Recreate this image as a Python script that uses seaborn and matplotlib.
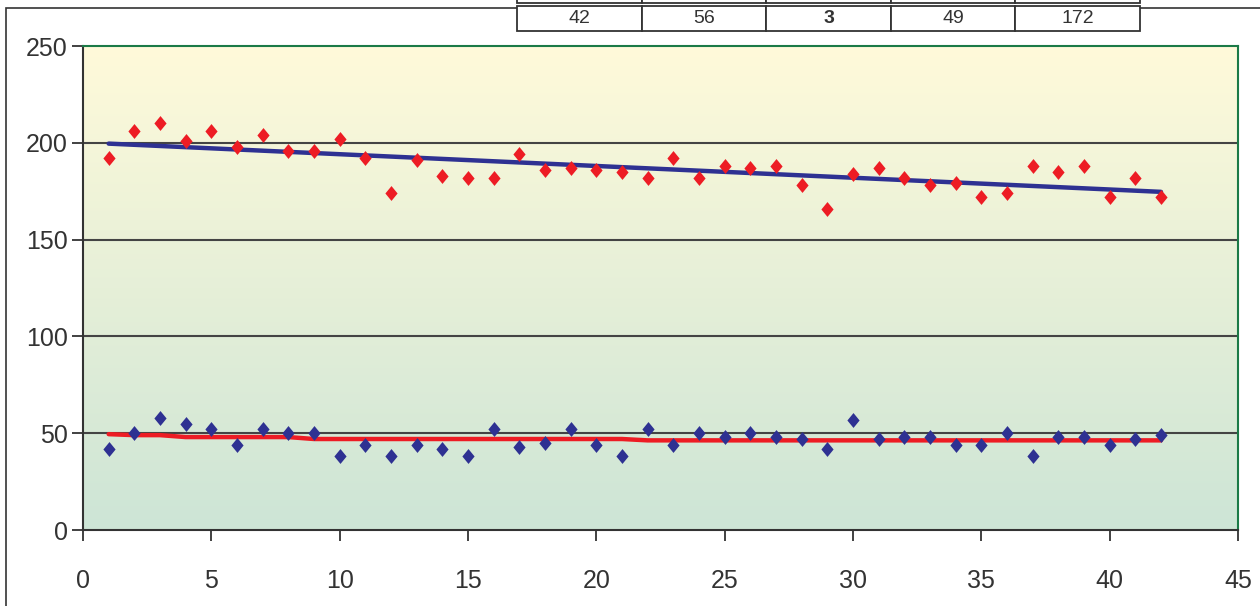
import numpy as np
import pandas as pd
import matplotlib
matplotlib.use('Agg')
import matplotlib.pyplot as plt
import seaborn as sns
from matplotlib.patches import Rectangle

# sample index
samples = list(range(1, 43))

# upper series (red diamonds)
high_vals = [192, 206, 210, 201, 206, 198, 204, 196, 196, 202,
             192, 174, 191, 183, 182, 182, 194, 186, 187, 186,
             185, 182, 192, 182, 188, 187, 188, 178, 166, 184,
             187, 182, 178, 179, 172, 174, 188, 185, 188, 172,
             182, 172]

# lower series (blue diamonds)
low_vals = [42, 50, 58, 55, 52, 44, 52, 50, 50, 38,
            44, 38, 44, 42, 38, 52, 43, 45, 52, 44,
            38, 52, 44, 50, 48, 50, 48, 47, 42, 57,
            47, 48, 48, 44, 44, 50, 38, 48, 48, 44,
            47, 49]

# rounded trend of the lower series, as plotted
low_trend = [49.5, 49, 49, 48, 48, 48, 48, 48, 47, 47,
             47, 47, 47, 47, 47, 47, 47, 47, 47, 47,
             47, 46.3, 46.3, 46.3, 46.3, 46.3, 46.3, 46.3, 46.3, 46.3,
             46.3, 46.3, 46.3, 46.3, 46.3, 46.3, 46.3, 46.3, 46.3, 46.3,
             46.3, 46.3]

table_header = ['', '', '', '', '']
table_row = ['42', '56', '3', '49', '172']

df = pd.DataFrame({'sample': samples, 'high': high_vals, 'low': low_vals, 'low_trend': low_trend})

sns.set_style('white')
plt.rcParams['font.family'] = ['Liberation Sans', 'DejaVu Sans']

RED = '#ED1C24'
NAVY = '#2E3192'
TXT = '#333333'
# slightly tall diamond like the spreadsheet marker
DIAMOND = [(0, 1), (0.82, 0), (0, -1), (-0.82, 0), (0, 1)]

fig = plt.figure(figsize=(12.6, 6.06), dpi=100)
ax = fig.add_axes([83/1260, 1 - 530/606, 1155/1260, 484/606])

# outer frame of the chart object
fig.add_artist(Rectangle((6/1260, -0.1), 2, 1 - 8/606 + 0.1, transform=fig.transFigure,
                         fill=False, edgecolor=TXT, linewidth=1.2, zorder=0))

# gradient plot area
top_c = np.array([255, 250, 218]) / 255
bot_c = np.array([205, 229, 214]) / 255
t = np.linspace(0, 1, 256)[:, None]
grad = (top_c * (1 - t) + bot_c * t)[:, None, :]
ax.imshow(grad, extent=[0, 45, 0, 250], aspect='auto', origin='upper', zorder=0)

for yv in [50, 100, 150, 200]:
    ax.axhline(yv, color='#444444', linewidth=1.5, zorder=1)

sns.regplot(data=df, x='sample', y='high', scatter=False, ci=None, ax=ax,
            line_kws={'color': NAVY, 'linewidth': 3.2, 'zorder': 2}, truncate=True)
sns.lineplot(data=df, x='sample', y='low_trend', color=RED, linewidth=3.2, ax=ax, zorder=2)

sns.scatterplot(data=df, x='sample', y='high', marker=DIAMOND, s=115, color=RED,
                edgecolor=RED, linewidth=0, ax=ax, zorder=3)
sns.scatterplot(data=df, x='sample', y='low', marker=DIAMOND, s=115, color=NAVY,
                edgecolor=NAVY, linewidth=0, ax=ax, zorder=3)

ax.set_xlim(0, 45)
ax.set_ylim(0, 250)
ax.set_xticks(range(0, 46, 5))
ax.set_yticks(range(0, 251, 50))
ax.set_xlabel('')
ax.set_ylabel('')
ax.tick_params(axis='both', direction='out', length=8, width=1.3, colors=TXT,
               labelsize=18, labelcolor=TXT)
ax.tick_params(axis='y', pad=3)
ax.tick_params(axis='x', pad=20)
ax.tick_params(left=True, bottom=True)

for side in ['left', 'bottom']:
    ax.spines[side].set_color(TXT)
    ax.spines[side].set_linewidth(1.5)
for side in ['top', 'right']:
    ax.spines[side].set_color('#1B7A47')
    ax.spines[side].set_linewidth(1.5)
    ax.spines[side].set_visible(True)

# data table peeking in above the chart
x0 = (517 - 83) / 1155
w = (1140 - 517) / 1155
tb_top = ax.table(cellText=[table_header], cellLoc='center',
                  bbox=[x0, (530 - 3) / 484, w, 26 / 484])
tb = ax.table(cellText=[table_row], cellLoc='center',
              bbox=[x0, (530 - 31) / 484, w, 25.5 / 484])
for table in (tb_top, tb):
    table.auto_set_font_size(False)
    table.set_clip_on(False)
    for (r, c), cell in table.get_celld().items():
        cell.set_edgecolor(TXT)
        cell.set_linewidth(1.3)
        cell.set_facecolor('white')
        cell.get_text().set_fontsize(14)
        cell.get_text().set_color(TXT)
        cell.set_clip_on(False)
tb.get_celld()[(0, 2)].get_text().set_fontweight('bold')

fig.savefig('out.png', dpi=100)
